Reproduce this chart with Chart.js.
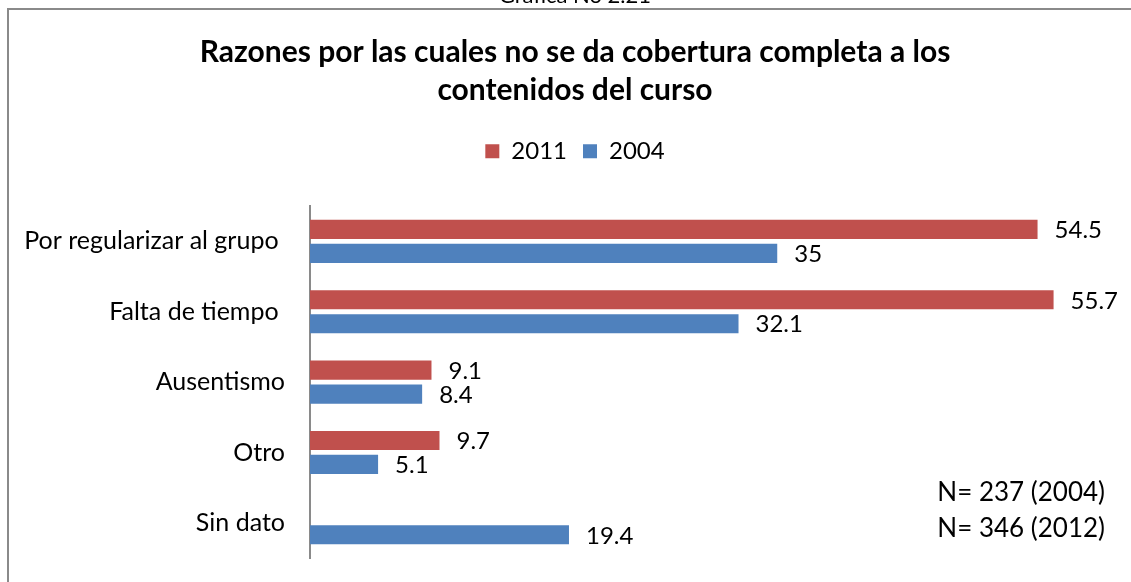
<!DOCTYPE html>
<html>
<head>
<meta charset="utf-8">
<script src="https://cdn.jsdelivr.net/npm/chart.js@4"></script>
<style>
  html, body { margin: 0; padding: 0; background: #fff; overflow: hidden; }
  #wrap { position: relative; width: 1131px; height: 582px; overflow: hidden; }
  #caption { position: absolute; left: 0; width: 1150px; top: -19px; text-align: center;
             font: 22px Lato, sans-serif; color: #000; }
  canvas { position: absolute; left: 0; top: 0; }
</style>
</head>
<body>
<div id="wrap">
  <canvas id="reasonsChart" width="1131" height="582"></canvas>
  <div id="caption">Gráfica No 2.21</div>
</div>
<script>
// Chart data
const categories = ['Por regularizar al grupo ', 'Falta de tiempo ', 'Ausentismo', 'Otro', 'Sin dato'];
const values2011 = [54.5, 55.7, 9.1, 9.7, null];
const values2004 = [35, 32.1, 8.4, 5.1, 19.4];
const seriesLabels = ['2011', '2004'];
const titleLines = ['Razones por las cuales no se da cobertura completa a los', 'contenidos del curso'];
const sampleNotes = ['N= 237 (2004)', 'N= 346 (2012)'];

const FONT = 'Lato, "Open Sans", sans-serif';

/**
 * Draws the value next to the end of each bar
 */
const barValueLabels = {
    id: 'barValueLabels',
    afterDatasetsDraw(chart) {
        const ctx = chart.ctx;
        ctx.save();
        ctx.font = '24px ' + FONT;
        ctx.fillStyle = '#000';
        ctx.textAlign = 'left';
        ctx.textBaseline = 'middle';
        chart.data.datasets.forEach((ds, i) => {
            const meta = chart.getDatasetMeta(i);
            meta.data.forEach((bar, j) => {
                const v = ds.data[j];
                if (v === null || v === undefined) return;
                ctx.fillText(String(v), bar.x + 17, bar.y + 1);
            });
        });
        ctx.restore();
    }
};

/**
 * Draws the sample size notes in the lower right corner
 */
const sampleNote = {
    id: 'sampleNote',
    afterDraw(chart) {
        const ctx = chart.ctx;
        ctx.save();
        ctx.font = '26px ' + FONT;
        ctx.fillStyle = '#000';
        ctx.textAlign = 'right';
        ctx.textBaseline = 'middle';
        sampleNotes.forEach((line, i) => {
            ctx.fillText(line, chart.width - 26, chart.chartArea.bottom - 65 + i * 36);
        });
        ctx.restore();
    }
};

/**
 * Draws the chart frame (only its top and left sides are inside the picture)
 */
const chartFrame = {
    id: 'chartFrame',
    beforeDraw(chart) {
        const ctx = chart.ctx;
        ctx.save();
        ctx.strokeStyle = '#8a8a8a';
        ctx.lineWidth = 2;
        ctx.beginPath();
        ctx.moveTo(8, chart.height + 5);
        ctx.lineTo(8, 9);
        ctx.lineTo(chart.width + 5, 9);
        ctx.stroke();
        ctx.restore();
    }
};

// Leave extra room between the legend and the bars
const legendGap = {
    id: 'legendGap',
    beforeInit(chart) {
        const origFit = chart.legend.fit;
        chart.legend.fit = function() {
            origFit.call(this);
            this.height += 33;
        };
    }
};

const ctx = document.getElementById('reasonsChart').getContext('2d');
new Chart(ctx, {
    type: 'bar',
    data: {
        labels: categories,
        datasets: [{
            label: seriesLabels[0],
            data: values2011,
            backgroundColor: '#C0504D',
            categoryPercentage: 0.68,
            barPercentage: 0.8
        }, {
            label: seriesLabels[1],
            data: values2004,
            backgroundColor: '#4F81BD',
            categoryPercentage: 0.68,
            barPercentage: 0.8
        }]
    },
    options: {
        indexAxis: 'y',
        responsive: false,
        animation: false,
        layout: {
            // negative right padding so the title centres where the original does
            padding: { left: 0, right: -19, top: 0, bottom: 24 }
        },
        scales: {
            x: {
                display: false,
                min: 0,
                max: 61.5
            },
            y: {
                grid: { display: false },
                border: { color: '#8a8a8a', width: 2 },
                ticks: {
                    color: '#000',
                    padding: 17,
                    font: { family: FONT, size: 25 }
                },
                afterFit: (scale) => {
                    scale.width = 310;
                    scale.paddingTop = 0;
                    scale.paddingBottom = 0;
                }
            }
        },
        plugins: {
            title: {
                display: true,
                text: titleLines,
                color: '#000',
                font: { family: FONT, size: 30, weight: 'bold', lineHeight: 1.27 },
                padding: { top: 33, bottom: 14 }
            },
            legend: {
                display: true,
                position: 'top',
                labels: {
                    color: '#000',
                    boxWidth: 14,
                    boxHeight: 14,
                    padding: 16,
                    font: { family: FONT, size: 24 }
                }
            },
            tooltip: { enabled: false }
        }
    },
    plugins: [chartFrame, barValueLabels, sampleNote, legendGap]
});
</script>
</body>
</html>
